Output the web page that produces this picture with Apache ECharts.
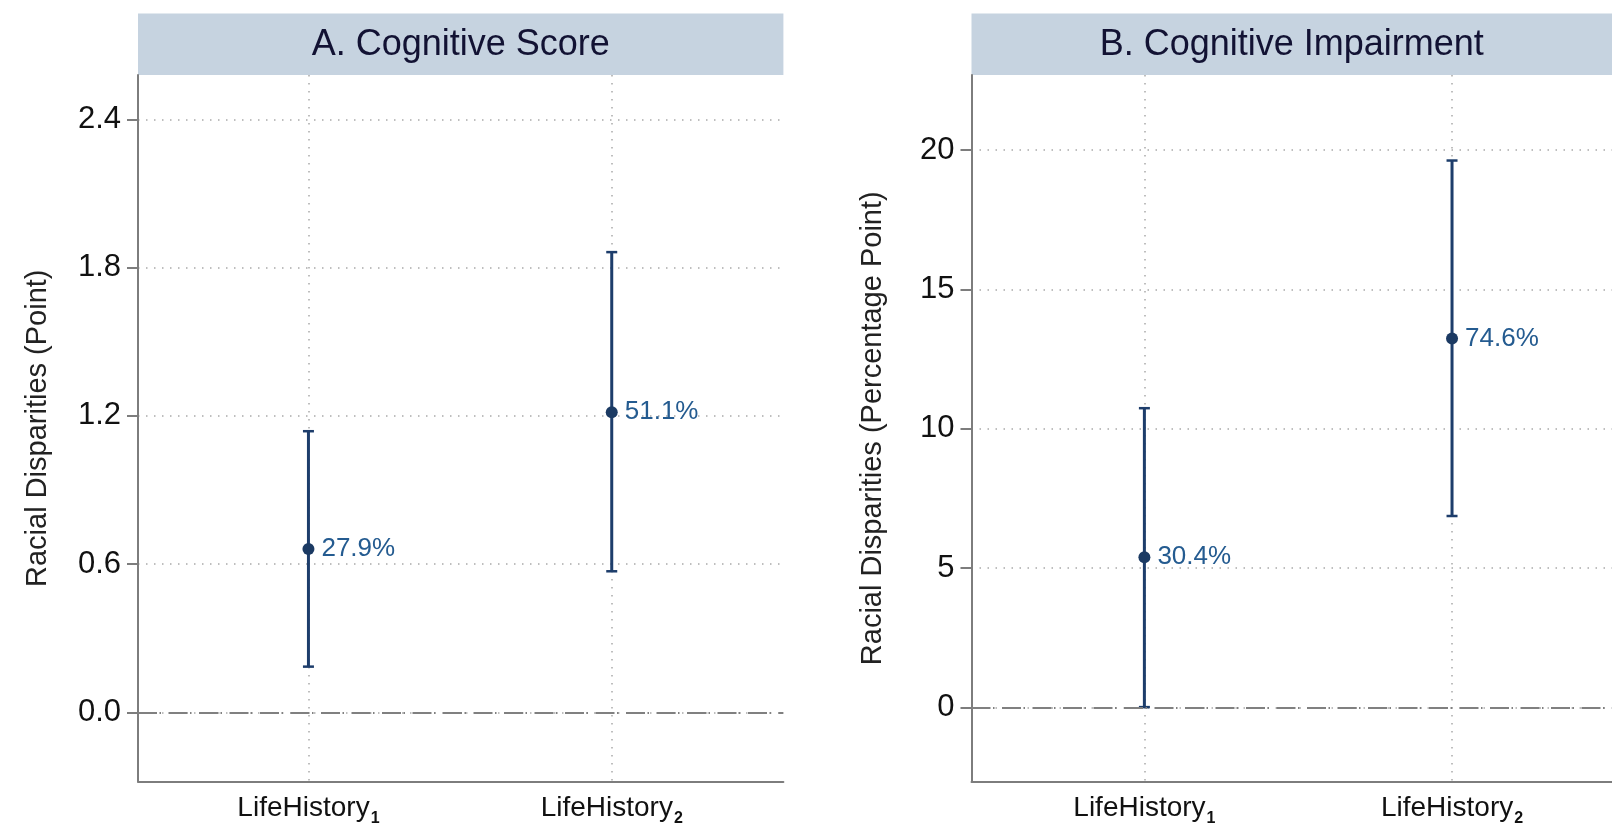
<!DOCTYPE html>
<html><head><meta charset="utf-8">
<script src="https://cdn.jsdelivr.net/npm/echarts@6/dist/echarts.min.js"></script>
<style>html,body{margin:0;padding:0;background:#fff}#c{width:1612px;height:823px}</style>
</head><body><div id="c"></div>
<script>
// ---- data ----
const categoryNames = ['LifeHistory', 'LifeHistory'];
const categorySubs = ['1', '2'];
const categoryPos = [1, 2];
const panelTitles = ['A. Cognitive Score', 'B. Cognitive Impairment'];
const yAxisTitles = ['Racial Disparities (Point)', 'Racial Disparities (Percentage Point)'];
const scoreEstimate = [0.661, 1.215];
const scoreLower = [0.185, 0.571];
const scoreUpper = [1.138, 1.863];
const scoreLabels = ['27.9%', '51.1%'];
const impairEstimate = [5.39, 13.24];
const impairLower = [0.01, 6.87];
const impairUpper = [10.74, 19.63];
const impairLabels = ['30.4%', '74.6%'];
const scoreTicks = [0, 0.6, 1.2, 1.8, 2.4];
const impairTicks = [0, 5, 10, 15, 20];

// ---- layout / style ----
const FONT = 'Liberation Sans, Arial, Helvetica, sans-serif';
const TOP = 75, BOTTOM_Y = 781.5, HEADER_TOP = 13.5;
const panels = [
  {left: 138, width: 645.4, ymin: -0.28, ymax: 2.58, xmin: 0.438, xmax: 2.566, ticks: scoreTicks,
   fmt: v => v.toFixed(1), est: scoreEstimate, lo: scoreLower, hi: scoreUpper, labels: scoreLabels, nameGap: 86},
  {left: 971.5, width: 640.5, ymin: -2.66, ymax: 22.7, xmin: 0.438, xmax: 2.52, ticks: impairTicks,
   fmt: v => String(v), est: impairEstimate, lo: impairLower, hi: impairUpper, labels: impairLabels, nameGap: 84}
];
const BAR_COLOR = '#1d3d6b';
const PT_COLOR = '#1b3a63';
const LBL_COLOR = '#245b90';
const AXIS_COLOR = '#7d7d7d';
const GRID_COLOR = '#a9a9a9';

const chart = echarts.init(document.getElementById('c'), null, {renderer: 'canvas'});

function renderErr(params, api) {
  const x = api.value(0), lo = api.value(1), hi = api.value(2);
  const a = api.coord([x, lo]), b = api.coord([x, hi]);
  const hw = 5.5;
  const st = {stroke: BAR_COLOR, lineWidth: 3};
  const cs = {stroke: BAR_COLOR, lineWidth: 2.5};
  return {type: 'group', children: [
    {type: 'line', shape: {x1: a[0], y1: a[1], x2: b[0], y2: b[1]}, style: st},
    {type: 'line', shape: {x1: a[0] - hw, y1: a[1], x2: a[0] + hw, y2: a[1]}, style: cs},
    {type: 'line', shape: {x1: b[0] - hw, y1: b[1], x2: b[0] + hw, y2: b[1]}, style: cs}
  ]};
}

const grids = [], xAxes = [], yAxes = [], series = [], graphics = [];
panels.forEach((p, i) => {
  grids.push({left: p.left, top: TOP, width: p.width, height: BOTTOM_Y - TOP, containLabel: false, outerBoundsMode: 'none'});
  xAxes.push({
    gridIndex: i, type: 'value', min: p.xmin, max: p.xmax,
    axisLine: {show: true, onZero: false, lineStyle: {color: AXIS_COLOR, width: 2}},
    axisTick: {show: false, customValues: categoryPos},
    axisLabel: {
      customValues: categoryPos, margin: 13,
      formatter: v => { const k = categoryPos.indexOf(v); return k < 0 ? '' : '{a|' + categoryNames[k] + '}{s|' + categorySubs[k] + '}'; },
      rich: {
        a: {fontFamily: FONT, fontSize: 28, color: '#111', lineHeight: 32, verticalAlign: 'top'},
        s: {fontFamily: FONT, fontSize: 16, color: '#111', lineHeight: 16, verticalAlign: 'bottom', fontWeight: 'bold', padding: [24, 0, 0, 1]}
      }
    },
    splitLine: {show: true, lineStyle: {color: GRID_COLOR, width: 1.5, type: [1.5, 6.5]}}
  });
  yAxes.push({
    gridIndex: i, type: 'value', min: p.ymin, max: p.ymax,
    name: yAxisTitles[i], nameLocation: 'middle', nameGap: p.nameGap,
    nameTextStyle: {fontFamily: FONT, fontSize: 29, color: '#222'},
    axisLine: {show: true, onZero: false, lineStyle: {color: AXIS_COLOR, width: 2}},
    axisTick: {show: true, length: 11, customValues: p.ticks, lineStyle: {color: AXIS_COLOR, width: 2}},
    axisLabel: {customValues: p.ticks, formatter: p.fmt, margin: 17, fontFamily: FONT, fontSize: 31, color: '#111'},
    splitLine: {show: true, lineStyle: {color: GRID_COLOR, width: 1.5, type: [1.5, 6.5]}}
  });
  series.push({
    type: 'custom', xAxisIndex: i, yAxisIndex: i, z: 2,
    renderItem: renderErr,
    data: categoryPos.map((x, k) => [x, p.lo[k], p.hi[k]]),
    markLine: {
      silent: true, symbol: ['none', 'none'], label: {show: false},
      lineStyle: {color: '#808080', width: 2, type: [19, 2.5, 1.5, 7.5]},
      data: [{yAxis: 0}]
    }
  });
  series.push({
    type: 'scatter', xAxisIndex: i, yAxisIndex: i, z: 3,
    symbol: 'circle', symbolSize: 12,
    itemStyle: {color: PT_COLOR, opacity: 1},
    label: {show: true, position: 'right', distance: 7, fontFamily: FONT, fontSize: 26, color: LBL_COLOR,
      formatter: prm => p.labels[prm.dataIndex]},
    data: categoryPos.map((x, k) => [x, p.est[k]])
  });
  graphics.push({type: 'rect', left: p.left, top: HEADER_TOP, shape: {width: p.width, height: TOP - HEADER_TOP}, style: {fill: '#c6d3e0'}, z: 0});
  graphics.push({type: 'text', x: p.left + p.width / 2, y: (HEADER_TOP + TOP) / 2 + 1,
    style: {text: panelTitles[i], font: '36px ' + FONT, fill: '#121233', textAlign: 'center', textVerticalAlign: 'middle'}, z: 1});
});

chart.setOption({
  animation: false,
  backgroundColor: '#ffffff',
  grid: grids, xAxis: xAxes, yAxis: yAxes, series: series, graphic: graphics
});
</script></body></html>
